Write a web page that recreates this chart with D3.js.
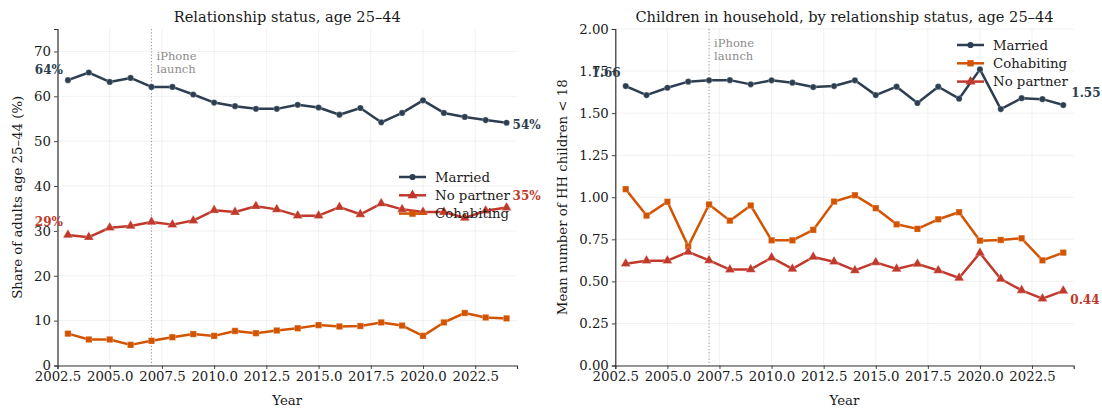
<!DOCTYPE html>
<html>
<head>
<meta charset="utf-8">
<script src="https://cdn.jsdelivr.net/npm/d3@7"></script>
<style>
  body { margin: 0; background: #fff; }
  svg { display: block; font-family: "DejaVu Serif", serif; }
</style>
</head>
<body>
<svg id="chart" width="1102" height="409"></svg>
<script>
// Survey years
const years = [2003, 2004, 2005, 2006, 2007, 2008, 2009, 2010, 2011, 2012, 2013,
               2014, 2015, 2016, 2017, 2018, 2019, 2020, 2021, 2022, 2023, 2024];

// Share of adults aged 25–44 by relationship status (%)
const shareMarried    = [63.6, 65.3, 63.2, 64.1, 62.1, 62.1, 60.4, 58.6, 57.8, 57.2, 57.2,
                         58.1, 57.5, 55.9, 57.4, 54.2, 56.3, 59.1, 56.3, 55.4, 54.7, 54.1];
const shareNoPartner  = [29.1, 28.6, 30.7, 31.1, 32.0, 31.4, 32.3, 34.6, 34.2, 35.5, 34.8,
                         33.4, 33.4, 35.3, 33.7, 36.1, 34.8, 34.2, 34.2, 32.9, 34.5, 35.2];
const shareCohabiting = [7.1, 5.8, 5.8, 4.6, 5.5, 6.3, 7.0, 6.6, 7.7, 7.2, 7.8,
                         8.3, 9.0, 8.7, 8.8, 9.6, 8.9, 6.6, 9.6, 11.7, 10.7, 10.5];

// Mean number of household children under 18, by relationship status
const kidsMarried    = [1.661, 1.607, 1.651, 1.687, 1.695, 1.696, 1.671, 1.695, 1.681, 1.655, 1.661,
                        1.695, 1.607, 1.657, 1.560, 1.657, 1.586, 1.760, 1.524, 1.589, 1.583, 1.548];
const kidsCohabiting = [1.048, 0.891, 0.973, 0.708, 0.957, 0.861, 0.951, 0.744, 0.744, 0.806, 0.974,
                        1.012, 0.935, 0.839, 0.812, 0.869, 0.911, 0.742, 0.746, 0.756, 0.625, 0.671];
const kidsNoPartner  = [0.605, 0.623, 0.623, 0.675, 0.625, 0.570, 0.571, 0.641, 0.574, 0.645, 0.617,
                        0.565, 0.613, 0.574, 0.604, 0.565, 0.520, 0.669, 0.514, 0.447, 0.397, 0.444];

// Axis ticks
const yearTicks  = [2002.5, 2005.0, 2007.5, 2010.0, 2012.5, 2015.0, 2017.5, 2020.0, 2022.5];
const shareTicks = [0, 10, 20, 30, 40, 50, 60, 70];
const kidsTicks  = [0.00, 0.25, 0.50, 0.75, 1.00, 1.25, 1.50, 1.75, 2.00];

const iphoneYear = 2007;

const COLORS = { married: "#2c3e50", cohab: "#d35400", nopartner: "#c0392b" };
const SYMBOLS = { married: d3.symbolCircle, cohab: d3.symbolSquare, nopartner: d3.symbolTriangle };
const SYMSIZE = { married: 30, cohab: 40, nopartner: 42 };

const svg = d3.select("#chart");

function drawPanel(cfg) {
  const x = d3.scaleLinear().domain([2002.5, 2024.5]).range([cfg.left, cfg.right]);
  const y = d3.scaleLinear().domain(cfg.yDomain).range([cfg.bottom, cfg.top]);
  const g = svg.append("g");

  // grid
  g.append("g").selectAll("line").data(yearTicks).join("line")
    .attr("x1", d => x(d)).attr("x2", d => x(d))
    .attr("y1", cfg.top).attr("y2", cfg.bottom)
    .attr("stroke", "#b0b0b0").attr("stroke-opacity", 0.22).attr("stroke-width", 0.8);
  g.append("g").selectAll("line").data(cfg.yTicks).join("line")
    .attr("x1", cfg.left).attr("x2", cfg.right)
    .attr("y1", d => y(d)).attr("y2", d => y(d))
    .attr("stroke", "#b0b0b0").attr("stroke-opacity", 0.22).attr("stroke-width", 0.8);

  // iPhone launch marker
  g.append("line")
    .attr("x1", x(iphoneYear)).attr("x2", x(iphoneYear))
    .attr("y1", cfg.top).attr("y2", cfg.bottom)
    .attr("stroke", "#999").attr("stroke-width", 1.1).attr("stroke-dasharray", "1.2,2");
  const note = g.append("text")
    .attr("x", x(iphoneYear) + 5).attr("y", cfg.top + cfg.noteDy)
    .attr("fill", "#8c8c8c").attr("font-size", 11.5);
  note.append("tspan").attr("x", x(iphoneYear) + 5).text("iPhone");
  note.append("tspan").attr("x", x(iphoneYear) + 5).attr("dy", 12.5).text("launch");

  // axes
  const xAxis = d3.axisBottom(x).tickValues(yearTicks).tickFormat(d3.format(".1f"))
    .tickSizeOuter(0).tickSize(3.5).tickPadding(3);
  const yAxis = d3.axisLeft(y).tickValues(cfg.yTicks).tickFormat(cfg.yFormat)
    .tickSizeOuter(0).tickSize(3.5).tickPadding(3);
  const gx = g.append("g").attr("transform", `translate(0,${cfg.bottom})`).call(xAxis);
  const gy = g.append("g").attr("transform", `translate(${cfg.left},0)`).call(yAxis);
  [gx, gy].forEach(a => {
    a.select(".domain").attr("stroke", "#333").attr("stroke-width", 1.2);
    a.selectAll(".tick line").attr("stroke", "#333").attr("stroke-width", 0.9);
    a.selectAll(".tick text").attr("font-family", "DejaVu Serif").attr("font-size", 13.3).attr("fill", "#1a1a1a");
  });

  // series
  const line = d3.line().x((d, i) => x(years[i])).y(d => y(d));
  cfg.series.forEach(s => {
    g.append("path").datum(s.values)
      .attr("fill", "none").attr("stroke", COLORS[s.key])
      .attr("stroke-width", 2.5).attr("stroke-linejoin", "round").attr("d", line);
    g.append("g").selectAll("path").data(s.values).join("path")
      .attr("transform", (d, i) => `translate(${x(years[i])},${y(d)})`)
      .attr("d", d3.symbol(SYMBOLS[s.key], SYMSIZE[s.key])())
      .attr("fill", COLORS[s.key]).attr("stroke", "#fff").attr("stroke-opacity", 0.45).attr("stroke-width", 0.6);
  });

  // value labels at start / end of series
  cfg.labels.forEach(l => {
    const s = cfg.series.find(t => t.key === l.key);
    const idx = l.at === "start" ? 0 : s.values.length - 1;
    const v = s.values[idx];
    g.append("text")
      .attr("x", x(years[idx]) + l.dx).attr("y", y(v) + l.dy)
      .attr("text-anchor", l.at === "start" ? "end" : "start")
      .attr("dominant-baseline", "central")
      .attr("font-size", 12).attr("font-weight", "bold")
      .attr("fill", COLORS[l.key]).text(l.fmt(v));
  });

  // legend (no frame)
  const lg = g.append("g");
  cfg.series.forEach((s, i) => {
    const ly = cfg.legendY + i * 18.3;
    lg.append("line").attr("x1", cfg.legendX).attr("x2", cfg.legendX + 27)
      .attr("y1", ly).attr("y2", ly).attr("stroke", COLORS[s.key]).attr("stroke-width", 2.5);
    lg.append("path").attr("transform", `translate(${cfg.legendX + 13.5},${ly})`)
      .attr("d", d3.symbol(SYMBOLS[s.key], SYMSIZE[s.key])()).attr("fill", COLORS[s.key]);
    lg.append("text").attr("x", cfg.legendX + 36).attr("y", ly)
      .attr("dominant-baseline", "central").attr("font-size", 13.3).attr("fill", "#1a1a1a")
      .text(s.name);
  });

  // title and axis labels
  svg.append("text").attr("x", (cfg.left + cfg.right) / 2).attr("y", 16)
    .attr("text-anchor", "middle").attr("dominant-baseline", "central")
    .attr("font-size", 14.6).attr("fill", "#1a1a1a").text(cfg.title);
  svg.append("text").attr("x", (cfg.left + cfg.right) / 2).attr("y", 400)
    .attr("text-anchor", "middle").attr("dominant-baseline", "central")
    .attr("font-size", 13.3).attr("fill", "#1a1a1a").text("Year");
  svg.append("text")
    .attr("transform", `translate(${cfg.yLabelX},${(cfg.top + cfg.bottom) / 2}) rotate(-90)`)
    .attr("text-anchor", "middle").attr("dominant-baseline", "central")
    .attr("font-size", 13.3).attr("fill", "#1a1a1a").text(cfg.yLabel);
}

const pct = v => `${Math.round(v)}%`;
const dec = v => v.toFixed(2);

drawPanel({
  left: 57.5, right: 517, top: 29, bottom: 365.5,
  yDomain: [0, 75], yTicks: shareTicks, yFormat: d3.format("d"),
  title: "Relationship status, age 25–44",
  yLabel: "Share of adults age 25–44 (%)", yLabelX: 17,
  noteDy: 31,
  series: [
    { key: "married", name: "Married", values: shareMarried },
    { key: "nopartner", name: "No partner", values: shareNoPartner },
    { key: "cohab", name: "Cohabiting", values: shareCohabiting }
  ],
  labels: [
    { key: "married", at: "start", dx: -5, dy: -10, fmt: pct },
    { key: "married", at: "end", dx: 6, dy: 2.5, fmt: pct },
    { key: "nopartner", at: "start", dx: -5, dy: -12.5, fmt: pct },
    { key: "nopartner", at: "end", dx: 6, dy: -12, fmt: pct }
  ],
  legendX: 399, legendY: 177
});

drawPanel({
  left: 615.3, right: 1073.7, top: 29, bottom: 365.5,
  yDomain: [0, 2], yTicks: kidsTicks, yFormat: d3.format(".2f"),
  title: "Children in household, by relationship status, age 25–44",
  yLabel: "Mean number of HH children < 18", yLabelX: 562,
  noteDy: 18,
  series: [
    { key: "married", name: "Married", values: kidsMarried },
    { key: "cohab", name: "Cohabiting", values: kidsCohabiting },
    { key: "nopartner", name: "No partner", values: kidsNoPartner }
  ],
  labels: [
    { key: "married", at: "start", dx: -5, dy: -13.5, fmt: dec },
    { key: "married", at: "end", dx: 8, dy: -12.5, fmt: dec },
    { key: "nopartner", at: "end", dx: 7, dy: 9, fmt: dec }
  ],
  legendX: 957, legendY: 45
});
</script>
</body>
</html>
